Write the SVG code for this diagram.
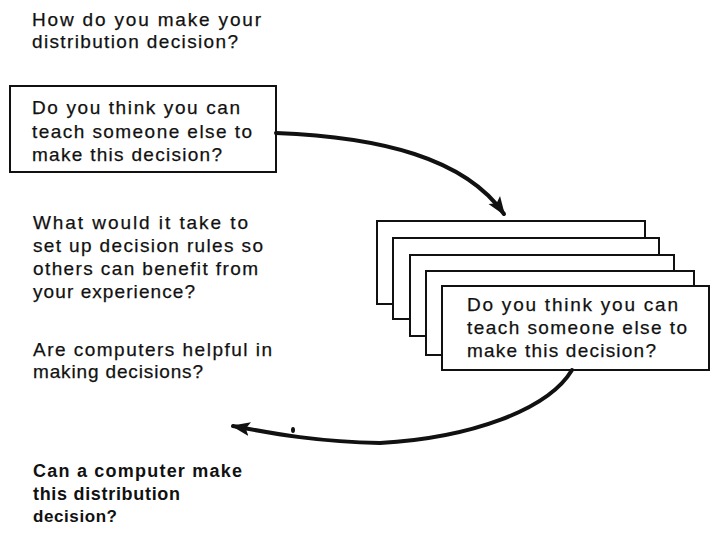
<svg xmlns="http://www.w3.org/2000/svg" width="713" height="535" viewBox="0 0 713 535">
<style>
text{font-family:"Liberation Sans",Arial,sans-serif;font-size:19px;fill:#111;stroke:#111;stroke-width:0.25;}
.b{font-weight:bold;font-size:18px;stroke-width:0;}
.box{fill:#fff;stroke:#111;stroke-width:2;}
.arr{fill:none;stroke:#111;stroke-width:4;stroke-linecap:round;}
</style>
<defs>
<marker id="ah" markerUnits="userSpaceOnUse" markerWidth="22" markerHeight="16" refX="17" refY="8" orient="auto">
<path d="M0,1 L19,8 L0,15 L4,8 z" fill="#111"/>
</marker>
</defs>
<rect width="713" height="535" fill="#fff"/>
<g id="q1">
<text x="32" y="26" textLength="229" lengthAdjust="spacing">How do you make your</text>
<text x="32" y="48" textLength="206" lengthAdjust="spacing">distribution decision?</text>
</g>
<g id="box1">
<rect class="box" x="10" y="86" width="266" height="86"/>
<text x="32" y="114" textLength="208" lengthAdjust="spacing">Do you think you can</text>
<text x="32" y="138" textLength="220" lengthAdjust="spacing">teach someone else to</text>
<text x="32" y="161" textLength="190" lengthAdjust="spacing">make this decision?</text>
</g>
<g id="stack">
<rect class="box" x="377" y="221" width="268" height="83"/>
<rect class="box" x="393" y="238" width="266" height="81"/>
<rect class="box" x="410" y="255" width="264" height="81"/>
<rect class="box" x="426" y="271" width="268" height="84"/>
<rect class="box" x="442" y="286" width="267" height="84"/>
<text x="467" y="311" textLength="211" lengthAdjust="spacing">Do you think you can</text>
<text x="467" y="334" textLength="220" lengthAdjust="spacing">teach someone else to</text>
<text x="467" y="357" textLength="189" lengthAdjust="spacing">make this decision?</text>
</g>
<g id="q2">
<text x="33" y="229" textLength="215" lengthAdjust="spacing">What would it take to</text>
<text x="33" y="252" textLength="230" lengthAdjust="spacing">set up decision rules so</text>
<text x="33" y="275" textLength="225" lengthAdjust="spacing">others can benefit from</text>
<text x="33" y="298" textLength="162" lengthAdjust="spacing">your experience?</text>
</g>
<g id="q3">
<text x="33" y="356" textLength="239" lengthAdjust="spacing">Are computers helpful in</text>
<text x="33" y="378" textLength="170" lengthAdjust="spacing">making decisions?</text>
</g>
<g id="q4">
<text class="b" x="33" y="477" textLength="209" lengthAdjust="spacing">Can a computer make</text>
<text class="b" x="33" y="500" textLength="147" lengthAdjust="spacing">this distribution</text>
<text class="b" x="33" y="522" textLength="84" lengthAdjust="spacing" style="font-size:17px">decision?</text>
</g>
<g id="connectors">
<path class="arr" d="M276,133 C380,137 465,158 504,214" marker-end="url(#ah)"/>
<path class="arr" d="M572,370 C548,410 470,438 380,443 C320,442 275,434 233,426" marker-end="url(#ah)"/>
<ellipse cx="293" cy="430" rx="2" ry="3" fill="#111"/>
</g>
</svg>
